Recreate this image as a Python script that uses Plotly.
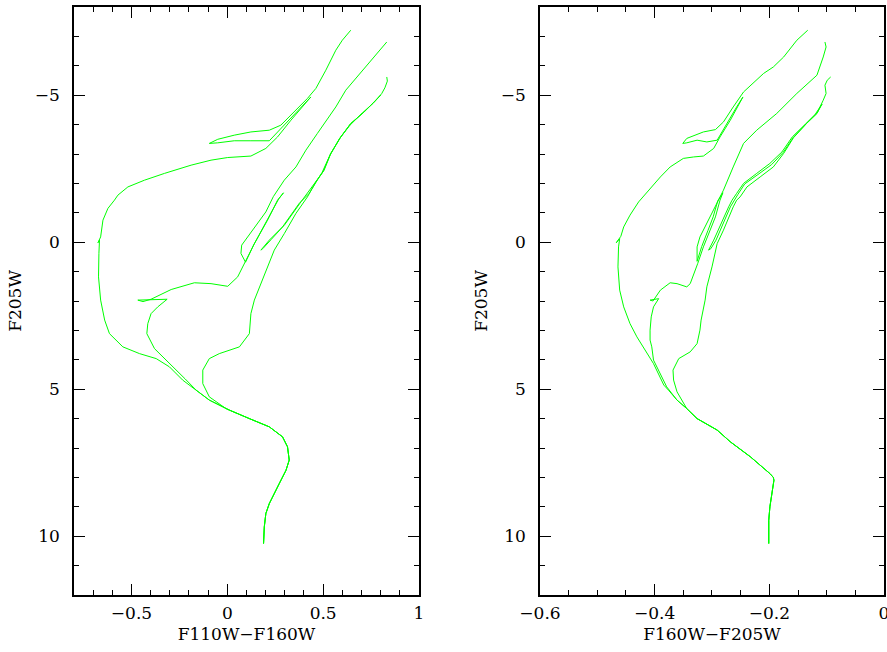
import plotly.graph_objects as go

# ---------------- Left panel (F110W-F160W vs F205W) ----------------
ms_left_x = [0.189, 0.193, 0.201, 0.219, 0.271, 0.306, 0.323, 0.314, 0.288, 0.219, 0.115, 0.028]
ms_left_y = [10.25, 9.68, 9.23, 8.89, 8.21, 7.76, 7.41, 6.96, 6.62, 6.28, 6.0, 5.77]

# youngest isochrone (continuation after shared main sequence)
l1_x = [0.010, -0.094, -0.163, -0.233, -0.302, -0.371, -0.458, -0.545, -0.615, -0.640, -0.661, -0.672,
        -0.670, -0.667, -0.675, -0.661, -0.649, -0.623, -0.589, -0.571, -0.519, -0.432, -0.328, -0.189,
        -0.085, 0.002, 0.123, 0.201, 0.262, 0.332, 0.436, 0.330, 0.219, 0.123, 0.036, -0.050, -0.094,
        -0.050, 0.036, 0.123, 0.219, 0.279, 0.358, 0.418, 0.462, 0.514, 0.566, 0.600, 0.644]
l1_y = [5.71, 5.37, 5.03, 4.69, 4.24, 3.96, 3.79, 3.56, 3.11, 2.65, 1.97, 1.18,
        0.38, -0.07, 0.02, -0.18, -0.75, -1.15, -1.43, -1.60, -1.88, -2.11, -2.34, -2.62,
        -2.79, -2.88, -2.93, -3.19, -3.58, -4.15, -4.94, -4.22, -3.45, -3.45, -3.45, -3.38, -3.36,
        -3.50, -3.64, -3.75, -3.81, -3.98, -4.49, -4.89, -5.23, -5.85, -6.53, -6.87, -7.21]

# intermediate-age isochrone
l2_x = [0.010, -0.094, -0.163, -0.220, -0.300, -0.380, -0.420, -0.418, -0.415, -0.398, -0.363, -0.314,
        -0.467, -0.440, -0.398, -0.293, -0.172, -0.085, 0.002, 0.054, 0.089, 0.141, 0.210, 0.262,
        0.293, 0.268, 0.205, 0.137, 0.095, 0.071, 0.075, 0.106, 0.158, 0.201, 0.240, 0.297, 0.358,
        0.410, 0.470, 0.566, 0.618, 0.705, 0.783, 0.818, 0.832]
l2_y = [5.71, 5.37, 5.03, 4.65, 4.13, 3.62, 3.11, 2.99, 2.77, 2.43, 2.20, 1.94,
        1.97, 2.02, 1.94, 1.61, 1.38, 1.41, 1.50, 1.18, 0.73, 0.05, -0.75, -1.43,
        -1.68, -1.47, -0.72, 0.10, 0.68, 0.38, 0.10, -0.18, -0.64, -1.03, -1.55, -2.11, -2.56,
        -3.13, -3.70, -4.60, -5.17, -5.85, -6.42, -6.70, -6.81]

# oldest isochrone
l3_x = [-0.007, -0.094, -0.128, -0.128, -0.094, -0.042, 0.063, 0.115, 0.123, 0.123, 0.141, 0.175,
        0.210, 0.245, 0.297, 0.358, 0.418, 0.462, 0.505, 0.540, 0.592, 0.644, 0.714, 0.766, 0.800,
        0.760, 0.705, 0.640, 0.585, 0.535, 0.495, 0.455, 0.427, 0.375, 0.288, 0.219, 0.175,
        0.185, 0.230, 0.300, 0.385, 0.445, 0.500, 0.538, 0.590, 0.642, 0.712, 0.768, 0.805,
        0.822, 0.832, 0.835, 0.832]
l3_y = [5.66, 5.26, 4.81, 4.35, 3.96, 3.79, 3.56, 3.11, 2.65, 2.43, 1.97, 1.41,
        0.78, 0.27, -0.29, -0.98, -1.54, -2.05, -2.45, -3.02, -3.58, -4.04, -4.43, -4.77, -5.00,
        -4.72, -4.40, -3.98, -3.52, -2.95, -2.38, -1.98, -1.66, -1.32, -0.52, -0.07, 0.27,
        0.22, -0.10, -0.60, -1.38, -1.90, -2.40, -3.00, -3.56, -4.02, -4.42, -4.78, -5.05,
        -5.25, -5.40, -5.48, -5.62]

# ---------------- Right panel (F160W-F205W vs F205W) ----------------
ms_right_x = [-0.201, -0.201, -0.199, -0.195, -0.192, -0.193, -0.199, -0.233, -0.268, -0.291, -0.326, -0.344]
ms_right_y = [10.25, 9.46, 9.00, 8.55, 8.10, 8.00, 7.87, 7.30, 6.79, 6.39, 6.00, 5.66]

r1_x = [-0.361, -0.376, -0.384, -0.402, -0.419, -0.431, -0.443, -0.454, -0.461, -0.464, -0.463, -0.461,
        -0.467, -0.459, -0.454, -0.443, -0.428, -0.408, -0.390, -0.373, -0.350, -0.332, -0.315,
        -0.297, -0.286, -0.268, -0.246, -0.257, -0.274, -0.291, -0.309, -0.326, -0.344, -0.351,
        -0.344, -0.315, -0.294, -0.280, -0.263, -0.245, -0.210, -0.193, -0.175, -0.152, -0.133]
r1_y = [5.37, 5.03, 4.86, 4.13, 3.62, 3.22, 2.77, 2.20, 1.63, 0.84, 0.16, -0.12,
        0.02, -0.20, -0.52, -0.92, -1.37, -1.83, -2.22, -2.56, -2.85, -2.90, -2.93,
        -3.19, -3.58, -4.15, -4.94, -4.60, -4.04, -3.47, -3.41, -3.47, -3.38, -3.36,
        -3.53, -3.75, -3.83, -4.09, -4.60, -5.11, -5.74, -5.96, -6.30, -6.87, -7.21]

r2_x = [-0.361, -0.379, -0.396, -0.402, -0.405, -0.408, -0.408, -0.406, -0.402, -0.393, -0.408, -0.403,
        -0.390, -0.373, -0.361, -0.344, -0.338, -0.326, -0.325, -0.315, -0.303, -0.294, -0.286, -0.281,
        -0.290, -0.298, -0.307, -0.318, -0.326, -0.326, -0.321, -0.309, -0.297, -0.289, -0.280, -0.263,
        -0.245, -0.222, -0.187, -0.152, -0.117, -0.106, -0.101, -0.103]
r2_y = [5.37, 4.92, 4.24, 4.01, 3.56, 3.33, 2.99, 2.54, 2.20, 1.92, 1.97, 2.00,
        1.63, 1.38, 1.41, 1.52, 1.41, 0.84, 0.73, 0.16, -0.41, -0.86, -1.43, -1.68,
        -1.40, -0.86, -0.40, 0.15, 0.65, 0.16, -0.18, -0.64, -1.09, -1.43, -1.77, -2.56,
        -3.36, -3.81, -4.38, -5.06, -5.68, -6.30, -6.64, -6.81]

r3_x = [-0.361, -0.367, -0.368, -0.358, -0.338, -0.326, -0.321, -0.319, -0.312, -0.309, -0.300, -0.291,
        -0.280, -0.263, -0.257, -0.251, -0.239, -0.216, -0.193, -0.175, -0.158, -0.135, -0.117, -0.108,
        -0.120, -0.137, -0.160, -0.178, -0.199, -0.222, -0.245, -0.257, -0.265, -0.271, -0.286, -0.297,
        -0.306, -0.302, -0.293, -0.283, -0.268, -0.255, -0.243, -0.220, -0.196, -0.176, -0.158, -0.135,
        -0.117, -0.106, -0.101, -0.103, -0.099, -0.093]
r3_y = [5.09, 4.69, 4.35, 3.96, 3.73, 3.45, 2.99, 2.65, 1.97, 1.52, 0.84, 0.05,
        -0.41, -1.20, -1.43, -1.54, -1.88, -2.22, -2.56, -3.02, -3.55, -4.04, -4.38, -4.70,
        -4.35, -4.02, -3.58, -3.07, -2.68, -2.34, -2.00, -1.66, -1.43, -1.20, -0.52, -0.07,
        0.27, 0.22, -0.07, -0.50, -1.20, -1.62, -1.98, -2.30, -2.64, -3.05, -3.57, -4.04,
        -4.38, -4.83, -5.06, -5.34, -5.51, -5.62]

LINE = dict(color="#00ff00", width=1)

fig = go.Figure()
left_sets = [(l1_x, l1_y), (l2_x, l2_y), (l3_x, l3_y)]
for cx, cy in left_sets:
    fig.add_trace(go.Scatter(x=ms_left_x + cx, y=ms_left_y + cy, mode="lines", line=LINE,
                             xaxis="x", yaxis="y", showlegend=False, hoverinfo="skip"))
right_sets = [(r1_x, r1_y), (r2_x, r2_y), (r3_x, r3_y)]
for cx, cy in right_sets:
    fig.add_trace(go.Scatter(x=ms_right_x + cx, y=ms_right_y + cy, mode="lines", line=LINE,
                             xaxis="x2", yaxis="y2", showlegend=False, hoverinfo="skip"))

FONT = dict(family="DejaVu Serif", size=17, color="black")

def xax(domain, rng, dtick, minor, title, anchor):
    return dict(domain=domain, range=rng, dtick=dtick, tick0=0, ticks="inside", ticklen=11,
                tickwidth=1.2, tickcolor="black", showline=True, linecolor="black", linewidth=1.5,
                mirror="ticks", showgrid=False, zeroline=False, tickfont=FONT, automargin=False,
                ticklabeloverflow="allow",
                minor=dict(dtick=minor, ticks="inside", ticklen=5, tickwidth=1, tickcolor="black", showgrid=False),
                title=dict(text=title, font=FONT, standoff=6), anchor=anchor, ticklabelstandoff=2)

def yax(anchor):
    return dict(range=[12, -8], dtick=5, tick0=0, ticks="inside", ticklen=11, tickwidth=1.2,
                tickcolor="black", showline=True, linecolor="black", linewidth=1.5, mirror="ticks",
                showgrid=False, zeroline=False, tickfont=FONT, automargin=False,
                minor=dict(dtick=1, ticks="inside", ticklen=5, tickwidth=1, tickcolor="black", showgrid=False),
                title=dict(text="F205W", font=FONT, standoff=9), anchor=anchor,
                ticklabelstandoff=9, domain=[0, 1])

fig.update_layout(
    width=887, height=652,
    template="none",
    margin=dict(l=74, r=3, t=7, b=57),
    paper_bgcolor="white", plot_bgcolor="white",
    xaxis=xax([0, 0.4259], [-0.8, 1], 0.5, 0.1, "F110W\u2212F160W", "y"),
    yaxis=yax("x"),
    xaxis2=xax([0.5753, 1], [-0.6, 0], 0.2, 0.05, "F160W\u2212F205W", "y2"),
    yaxis2=yax("x2"),
)

# place the figure flush with the window (no default page margin, no scrollbars)
fig.write_html("out.html", config={"displayModeBar": False},
               post_script="document.body.style.margin='0';document.body.style.overflow='hidden';")
